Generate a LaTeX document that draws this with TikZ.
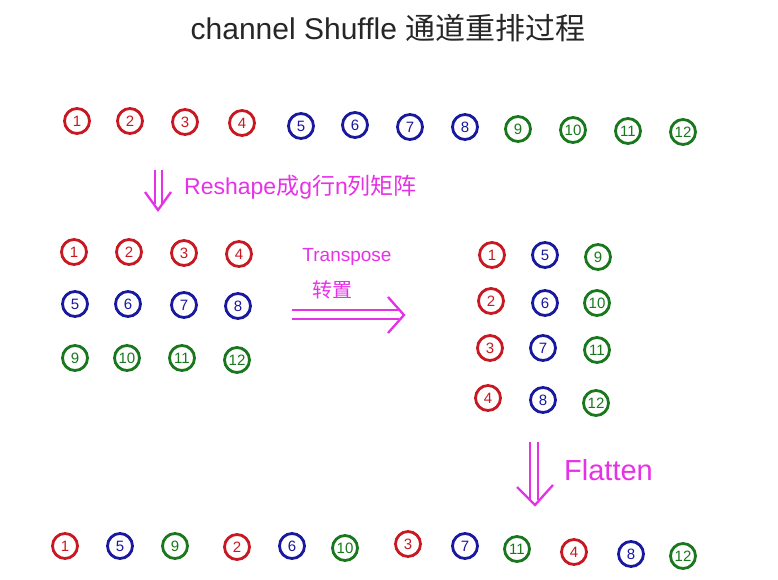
\documentclass[tikz,border=0pt]{standalone}
\usepackage{fontspec}
\setmainfont{Liberation Sans}
\newfontfamily\cjk{Noto Sans CJK SC}
\usetikzlibrary{positioning}
\definecolor{chred}{RGB}{200,25,35}
\definecolor{chblue}{RGB}{25,25,160}
\definecolor{chgreen}{RGB}{25,120,30}
\definecolor{chpink}{RGB}{230,50,230}

\begin{document}
\begin{tikzpicture}[x=1pt,y=-1pt,
ch/.style={circle,line width=2.8pt,minimum size=25pt,inner sep=0pt,font=\fontsize{15}{15}\selectfont},
redch/.style={ch,draw=chred,text=chred},
bluech/.style={ch,draw=chblue,text=chblue},
greench/.style={ch,draw=chgreen,text=chgreen},
pinklabel/.style={text=chpink,inner sep=0pt},
bigarrow/.style={draw=chpink,line width=2.3pt,double=white,double distance=5pt},
arrowhead/.style={draw=chpink,line width=2.3pt,line join=miter}]
\useasboundingbox[fill=white] (0,0) rectangle (778,580);

\node[font=\fontsize{30}{32}\selectfont,text=black!85] (title) at (388,28) {channel Shuffle {\cjk 通道重排过程}};

\node[redch] (in1) at (77,121) {1};
\node[redch] (in2) at (130,121) {2};
\node[redch] (in3) at (185,122) {3};
\node[redch] (in4) at (242,123) {4};
\node[bluech] (in5) at (301,126) {5};
\node[bluech] (in6) at (355,125) {6};
\node[bluech] (in7) at (410,127) {7};
\node[bluech] (in8) at (465,127) {8};
\node[greench] (in9) at (518,129) {9};
\node[greench] (in10) at (573,130) {10};
\node[greench] (in11) at (628,131) {11};
\node[greench] (in12) at (683,132) {12};

\coordinate (reshape top) at (158.5,170);
\coordinate (reshape end) at (158.5,204);
\coordinate (reshape tip) at (158,210);
\draw[bigarrow] (reshape top) -- (reshape end);
\draw[arrowhead] (reshape tip) ++(-13,-18) -- (reshape tip) -- ++(13,-18);
\node[pinklabel,anchor=west,font=\fontsize{23}{25}\selectfont] (reshape) at (184,187) {Reshape{\cjk 成}g{\cjk 行}n{\cjk 列矩阵}};

\node[redch] (g1) at (74,252) {1};
\node[redch] (g2) at (129,252) {2};
\node[redch] (g3) at (184,253) {3};
\node[redch] (g4) at (239,254) {4};
\node[bluech] (g5) at (75,304) {5};
\node[bluech] (g6) at (128,304) {6};
\node[bluech] (g7) at (184,305) {7};
\node[bluech] (g8) at (238,306) {8};
\node[greench] (g9) at (75,358) {9};
\node[greench] (g10) at (127,358) {10};
\node[greench] (g11) at (182,358) {11};
\node[greench] (g12) at (237,360) {12};

\node[pinklabel,font=\fontsize{19}{21}\selectfont] (transpose) at (347,257) {Transpose};
\node[pinklabel,font=\fontsize{20}{22}\selectfont\cjk] (zhuanzhi) at (332,290) {转置};
\coordinate (transpose start) at (292,314.5);
\coordinate (transpose end) at (399,314.5);
\coordinate (transpose tip) at (404,315);
\draw[bigarrow,double distance=7pt] (transpose start) -- (transpose end);
\draw[arrowhead] (transpose tip) ++(-16,-18) -- (transpose tip) -- ++(-16,18);

\node[redch] (tr1) at (492,255) {1};
\node[redch] (tr2) at (491,301) {2};
\node[redch] (tr3) at (490,348) {3};
\node[redch] (tr4) at (488,398) {4};
\node[bluech] (tr5) at (545,255) {5};
\node[bluech] (tr6) at (545,303) {6};
\node[bluech] (tr7) at (543,348) {7};
\node[bluech] (tr8) at (543,400) {8};
\node[greench] (tr9) at (598,257) {9};
\node[greench] (tr10) at (597,303) {10};
\node[greench] (tr11) at (597,350) {11};
\node[greench] (tr12) at (596,403) {12};

\coordinate (flatten top) at (534,442);
\coordinate (flatten end) at (534,500);
\coordinate (flatten tip) at (535,505);
\draw[bigarrow,double distance=6pt] (flatten top) -- (flatten end);
\draw[arrowhead] (flatten tip) ++(-18,-18) -- (flatten tip) -- ++(18,-20);
\node[pinklabel,anchor=west,font=\fontsize{29}{31}\selectfont] (flatten) at (564,470) {Flatten};

\node[redch] (out1) at (65,546) {1};
\node[bluech] (out5) at (120,546) {5};
\node[greench] (out9) at (175,546) {9};
\node[redch] (out2) at (237,547) {2};
\node[bluech] (out6) at (292,546) {6};
\node[greench] (out10) at (345,548) {10};
\node[redch] (out3) at (408,544) {3};
\node[bluech] (out7) at (465,546) {7};
\node[greench] (out11) at (517,549) {11};
\node[redch] (out4) at (574,552) {4};
\node[bluech] (out8) at (631,554) {8};
\node[greench] (out12) at (683,556) {12};
\end{tikzpicture}
\end{document}
